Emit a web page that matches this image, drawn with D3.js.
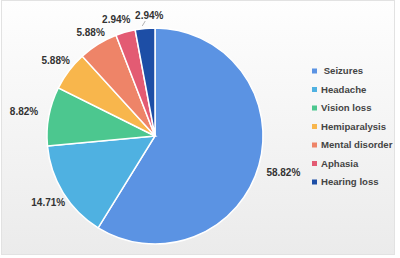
<!DOCTYPE html>
<html>
<head>
<meta charset="utf-8">
<script src="https://cdn.jsdelivr.net/npm/d3@7"></script>
<style>
  html, body { margin: 0; padding: 0; background: #fff; }
  svg { display: block; font-family: "Liberation Sans", Arial, sans-serif; }
</style>
</head>
<body>
<svg></svg>
<script>
// symptoms and their share of patients (%)
const symptoms = ['Seizures', 'Headache', 'Vision loss', 'Hemiparalysis', 'Mental disorder', 'Aphasia', 'Hearing loss']
const shares = [58.82, 14.71, 8.82, 5.88, 5.88, 2.94, 2.94]
const legendNames = [' Seizures', 'Headache', 'Vision loss', 'Hemiparalysis', 'Mental disorder', 'Aphasia', 'Hearing loss']

const colours = ['#5b93e3', '#4fb1e1', '#4cc78f', '#f8b64c', '#ee8468', '#e35b73', '#1d4ea6']

const W = 400, H = 258
const cx = 155, cy = 136, R = 108

const svg = d3.select('svg')
  .attr('width', W)
  .attr('height', H)

// soft grey background like the original export
const defs = svg.append('defs')
const grad = defs.append('linearGradient')
  .attr('id', 'bg')
  .attr('x1', 0).attr('y1', 0).attr('x2', 0).attr('y2', 1)
grad.append('stop').attr('offset', '0%').attr('stop-color', '#fefefe')
grad.append('stop').attr('offset', '100%').attr('stop-color', '#ebebeb')

svg.append('rect')
  .attr('x', 1.5).attr('y', 0.5)
  .attr('width', 393).attr('height', 254)
  .attr('fill', 'url(#bg)')
  .attr('stroke', '#e2e2e2')

const pieGroup = svg.append('g')
  .attr('transform', `translate(${cx}, ${cy})`)

const pieGenerator = d3.pie().sort(null)
const arcData = pieGenerator(shares)

const arcGenerator = d3.arc()
  .innerRadius(0)
  .outerRadius(R)

pieGroup.selectAll('path')
  .data(arcData)
  .enter()
  .append('path')
  .attr('d', arcGenerator)
  .style('fill', (d, i) => colours[i])
  .style('stroke', '#fff')
  .style('stroke-width', 1.5)

// label placement: text box sits just outside the arc along mid angle
const fmt = d => d3.format('.2f')(d) + '%'
const gap = 9, hw = 16, hh = 4.5
const labels = arcData.map((d, i) => {
  const a = (d.startAngle + d.endAngle) / 2
  const sx = Math.sin(a), sy = -Math.cos(a)
  const push = Math.min(Math.abs(sx) > 1e-6 ? hw / Math.abs(sx) : 1e9,
                        Math.abs(sy) > 1e-6 ? hh / Math.abs(sy) : 1e9)
  const r = R + gap + push
  return { i, a, x: sx * r, y: sy * r, x0: sx * r, y0: sy * r }
})

// crude overlap resolution: push colliding labels apart sideways
for (let k = 0; k < 20; k++) {
  for (let p = 0; p < labels.length; p++) {
    for (let q = p + 1; q < labels.length; q++) {
      const A = labels[p], B = labels[q]
      const dx = B.x - A.x
      if (Math.abs(dx) < hw * 2 + 1 && Math.abs(B.y - A.y) < hh * 2 + 3) {
        const need = (hw * 2 + 1 - Math.abs(dx)) / 2
        const s = dx >= 0 ? 1 : -1
        A.x -= need * s
        B.x += need * s
        A.y += 1
      }
    }
  }
}

// leader line when a label drifted away from its slice
labels.forEach(l => {
  if (l.x - l.x0 > 2) {
    pieGroup.append('line')
      .attr('x1', l.x - 4).attr('y1', l.y + 6)
      .attr('x2', l.x - 7).attr('y2', l.y + 11)
      .attr('stroke', '#a0a0a0')
      .attr('stroke-width', 0.8)
  }
})

pieGroup.selectAll('text.pct')
  .data(labels)
  .enter()
  .append('text')
  .attr('class', 'pct')
  .attr('x', d => d.x)
  .attr('y', d => d.y)
  .attr('dy', '0.35em')
  .attr('text-anchor', 'middle')
  .style('font-size', '10px')
  .style('font-weight', 'bold')
  .style('fill', '#333')
  .text(d => fmt(shares[d.i]))

// legend
const legendY = d3.scalePoint()
  .domain(symptoms)
  .range([71, 182])

const legend = svg.append('g')
  .selectAll('g')
  .data(symptoms)
  .enter()
  .append('g')
  .attr('transform', d => `translate(312, ${legendY(d)})`)

legend.append('rect')
  .attr('x', 0).attr('y', -2.5)
  .attr('width', 5).attr('height', 5)
  .style('fill', (d, i) => colours[i])

legend.append('text')
  .attr('x', 9)
  .attr('dy', '0.35em')
  .style('font-size', '9.6px')
  .style('font-weight', 'bold')
  .style('fill', '#444')
  .style('white-space', 'pre')
  .text((d, i) => legendNames[i])
</script>
</body>
</html>
